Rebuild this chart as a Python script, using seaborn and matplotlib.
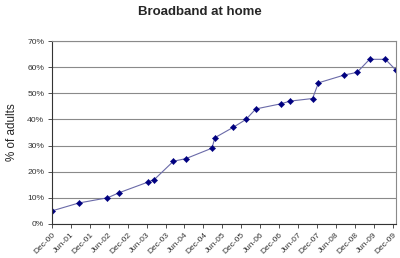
import matplotlib
matplotlib.use("Agg")
import matplotlib.pyplot as plt
import matplotlib.dates as mdates
import seaborn as sns
import pandas as pd

dates = ["2000-12-01", "2001-08-15", "2002-05-20", "2002-09-13", "2003-06-13",
         "2003-08-15", "2004-02-15", "2004-06-15", "2005-02-21", "2005-03-21",
         "2005-09-15", "2006-01-15", "2006-04-19", "2006-12-21", "2007-03-15",
         "2007-10-19", "2007-12-15", "2008-08-21", "2008-12-21", "2009-04-21",
         "2009-09-21", "2009-12-28"]
values = [5, 8, 10, 12, 16, 17, 24, 25, 29, 33, 37, 40, 44, 46, 47, 48, 54,
          57, 58, 63, 63, 59]
tick_dates = pd.date_range("2000-12-01", "2009-12-01", freq="6MS")
title = "Broadband at home"
ylabel = "% of adults"

df = pd.DataFrame({"date": pd.to_datetime(dates), "pct": values})

sns.set_theme(style="white")
plt.rcParams["font.family"] = ["Liberation Sans", "DejaVu Sans"]

fig = plt.figure(figsize=(4.0, 2.58), dpi=100)
ax = fig.add_axes([0.13, 0.132, 0.86, 0.709])

sns.lineplot(data=df, x="date", y="pct", ax=ax, color="#6a6aa8", linewidth=0.8,
             marker="D", markersize=3.2, markerfacecolor="#000080",
             markeredgecolor="#000080", markeredgewidth=0.3)

ax.set_ylim(0, 70)
ax.set_yticks(range(0, 71, 10))
ax.set_yticklabels([f"{v}%" for v in range(0, 71, 10)], fontsize=6.1, color="#333333")
ax.yaxis.grid(True, color="#8a8a8a", linewidth=0.8)
ax.set_axisbelow(True)

ax.set_xlim(pd.Timestamp("2000-12-01"), pd.Timestamp("2010-01-01"))
ax.set_xticks(tick_dates)
ax.set_xticklabels([d.strftime("%b-%y") for d in tick_dates], rotation=45,
                   ha="right", rotation_mode="anchor", fontsize=6.0, color="#333333")

ax.tick_params(axis="both", which="major", direction="out", length=3, width=0.6,
               color="#333333", pad=2.5, bottom=True, left=True)

for side in ["top", "right"]:
    ax.spines[side].set_color("#8a8a8a")
    ax.spines[side].set_linewidth(0.8)
for side in ["left", "bottom"]:
    ax.spines[side].set_color("#333333")
    ax.spines[side].set_linewidth(0.8)

ax.set_xlabel("")
ax.set_ylabel(ylabel, fontsize=8.4, labelpad=7)
fig.text(0.5, 0.955, title, ha="center", va="center", fontsize=9.5, fontweight="bold")

fig.savefig("out.png", dpi=100, facecolor="white")
